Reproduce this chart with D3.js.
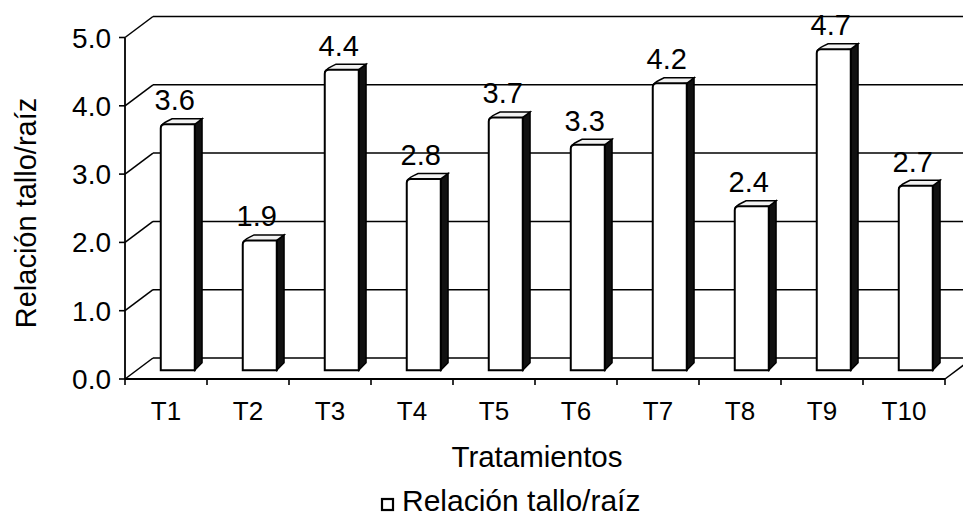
<!DOCTYPE html>
<html>
<head>
<meta charset="utf-8">
<script src="https://cdn.jsdelivr.net/npm/d3@7"></script>
<style>
  html, body { margin: 0; padding: 0; background: #fff; }
  svg { display: block; }
  text { font-family: Arial, "Liberation Sans", sans-serif; fill: #000; }
</style>
</head>
<body>
<svg id="chart" width="963" height="520"></svg>
<script>
// Data
const categories = ["T1", "T2", "T3", "T4", "T5", "T6", "T7", "T8", "T9", "T10"];
const values = [3.6, 1.9, 4.4, 2.8, 3.7, 3.3, 4.2, 2.4, 4.7, 2.7];
const yTicks = [0, 1, 2, 3, 4, 5];
const seriesName = "Relación tallo/raíz";
const xTitle = "Tratamientos";
const yTitle = "Relación tallo/raíz";

const svg = d3.select("#chart");
const W = 963, H = 520;

// Front plane of the 3D box
const x0 = 125, x1 = 945;
const y = d3.scaleLinear().domain([0, 5]).range([379, 37.5]);
const x = d3.scaleBand().domain(categories).range([x0, x1]).paddingInner(0).paddingOuter(0);

// Depth offset of the back wall
const DX = 28, DY = -21;
const depth = f => [DX * f, DY * f];

const g = svg.append("g");
const line = (a, b, w = 1.6) => g.append("line")
  .attr("x1", a[0]).attr("y1", a[1]).attr("x2", b[0]).attr("y2", b[1])
  .attr("stroke", "#000").attr("stroke-width", w);

// Back wall gridlines and left wall diagonals
yTicks.forEach(v => {
  const yf = y(v);
  line([x0 + DX, yf + DY], [W + 20, yf + DY], 1.5);
  line([x0, yf], [x0 + DX, yf + DY], 1.5);
});

// Floor: front edge and right diagonal
line([x0, y(0)], [x1, y(0)], 1.8);
line([x1, y(0)], [x1 + DX, y(0) + DY], 1.5);

// Vertical axis and ticks
line([x0, y(5)], [x0, y(0)], 1.8);
yTicks.forEach(v => line([x0 - 6, y(v)], [x0, y(v)], 1.6));

// Category ticks
d3.range(categories.length + 1).forEach(i => {
  const xt = x0 + i * x.step();
  line([xt, y(0)], [xt, y(0) + 6], 1.6);
});

// Bars (front face at f1, back at f2 inside the depth)
const f1 = 0.42, f2 = 0.68;
const barW = 34;
const bars = g.append("g");
categories.forEach((c, i) => {
  const v = values[i];
  const cx = x(c) + x.bandwidth() / 2;
  const [ax, ay] = depth(f1);
  const [bx, by] = depth(f2);
  const L = cx - barW / 2 + ax, R = cx + barW / 2 + ax;
  const T = y(v) + ay, B = y(0) + ay;
  const ddx = bx - ax, ddy = by - ay;
  const r = 4;
  // side face
  bars.append("path")
    .attr("d", `M${R},${T} L${R + ddx},${T + ddy} L${R + ddx},${B + ddy - 2} L${R + ddx - 3},${B + ddy + 1} L${R},${B} Z`)
    .attr("fill", "#111").attr("stroke", "#000").attr("stroke-width", 1.5);
  // top face
  bars.append("path")
    .attr("d", `M${L},${T + r} Q${L},${T} ${L + r + ddx * 0.4},${T + ddy * 0.6} L${L + ddx + r},${T + ddy} L${R + ddx},${T + ddy} L${R},${T} Z`)
    .attr("fill", "#f2f2f2").attr("stroke", "#000").attr("stroke-width", 1.5);
  // front face
  bars.append("path")
    .attr("d", `M${L},${B} L${L},${T + r} Q${L},${T} ${L + r},${T} L${R},${T} L${R},${B} Z`)
    .attr("fill", "#fff").attr("stroke", "#000").attr("stroke-width", 2);
  // value label
  g.append("text")
    .attr("x", cx + ax - 3).attr("y", T - 14)
    .attr("text-anchor", "middle")
    .attr("font-size", 29)
    .text(v.toFixed(1));
});

// Y tick labels
yTicks.forEach(v => {
  g.append("text").attr("x", 111).attr("y", y(v) + 10)
    .attr("text-anchor", "end").attr("font-size", 28)
    .text(d3.format(".1f")(v));
});

// X tick labels
categories.forEach(c => {
  g.append("text").attr("x", x(c) + x.bandwidth() / 2).attr("y", 420)
    .attr("text-anchor", "middle").attr("font-size", 26).text(c);
});

// Axis titles
g.append("text").attr("x", 537).attr("y", 467)
  .attr("text-anchor", "middle").attr("font-size", 29.5).text(xTitle);
g.append("text").attr("transform", "translate(36,213) rotate(-90)")
  .attr("text-anchor", "middle").attr("font-size", 29).text(yTitle);

// Legend
const lg = g.append("g").attr("transform", "translate(382,499)");
lg.append("rect").attr("x", 0).attr("y", 0).attr("width", 11).attr("height", 11)
  .attr("fill", "#fff").attr("stroke", "#000").attr("stroke-width", 2.2);
lg.append("text").attr("x", 20).attr("y", 12).attr("font-size", 30).text(seriesName);
</script>
</body>
</html>
